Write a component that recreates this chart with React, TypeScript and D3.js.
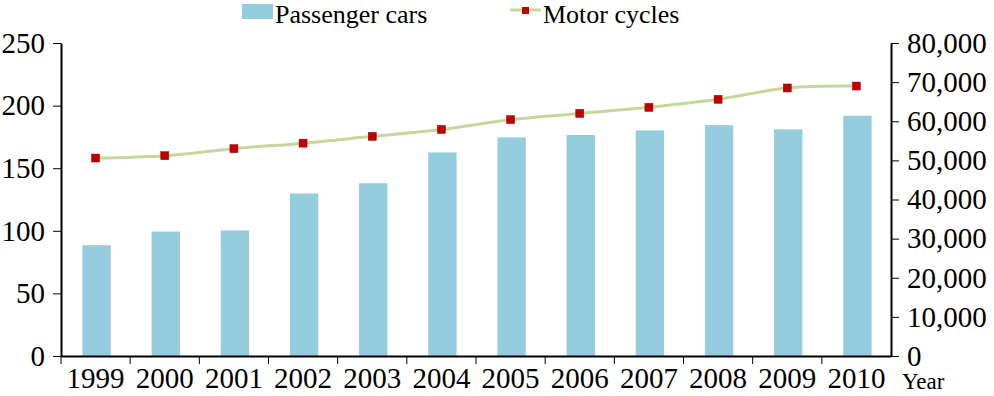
import React, { useRef, useEffect } from 'react';
import * as d3 from 'd3';

// data
const years = ['1999', '2000', '2001', '2002', '2003', '2004', '2005', '2006', '2007', '2008', '2009', '2010'];
const passengerCars = [88.5, 99.4, 100.3, 129.8, 138, 162.6, 174.6, 176.5, 180.2, 184.4, 181, 191.9];
const motorCycles = [50600, 51200, 53000, 54400, 56150, 57900, 60400, 62000, 63550, 65600, 68500, 69000];
const leftTicks = [0, 50, 100, 150, 200, 250];
const rightTicks = [0, 10000, 20000, 30000, 40000, 50000, 60000, 70000, 80000];

const W = 994;
const H = 396;
const BAR_COLOR = '#95cdde';
const LINE_COLOR = '#c4d89c';
const MARKER_COLOR = '#c00000';
const FONT = '"Liberation Serif", "Times New Roman", serif';

const App: React.FC = () => {
  const svgRef = useRef<SVGSVGElement | null>(null);

  useEffect(() => {
    const svg = d3.select(svgRef.current);
    svg.selectAll('*').remove();

    const left = 61;
    const right = 891;
    const top = 43;
    const bottom = 356;

    const x = d3.scaleBand().domain(years).range([left, right]).padding(0);
    const yL = d3.scaleLinear().domain([0, 250]).range([bottom, top]);
    const yR = d3.scaleLinear().domain([0, 80000]).range([bottom, top]);

    // bars
    const barW = x.bandwidth() * 0.41;
    svg.append('g')
      .selectAll('rect')
      .data(passengerCars)
      .enter()
      .append('rect')
      .attr('x', (_, i) => x(years[i])! + x.bandwidth() / 2 - barW / 2 + 1)
      .attr('y', (d) => yL(d))
      .attr('width', barW)
      .attr('height', (d) => bottom - yL(d))
      .attr('fill', BAR_COLOR);

    // left axis
    const gL = svg.append('g')
      .attr('transform', `translate(${left},0)`)
      .call(d3.axisLeft(yL).tickValues(leftTicks).tickSize(8).tickPadding(8).tickSizeOuter(0));
    // right axis
    const gR = svg.append('g')
      .attr('transform', `translate(${right},0)`)
      .call(d3.axisRight(yR).tickValues(rightTicks).tickFormat(d3.format(',') as any).tickSize(8).tickPadding(8).tickSizeOuter(0));
    // x axis
    const gX = svg.append('g')
      .attr('transform', `translate(0,${bottom})`)
      .call(d3.axisBottom(x).tickSize(0).tickPadding(0).tickSizeOuter(0));

    // x ticks between categories
    svg.append('g')
      .selectAll('line')
      .data(years)
      .enter()
      .append('line')
      .attr('x1', (d) => x(d)!)
      .attr('x2', (d) => x(d)!)
      .attr('y1', bottom)
      .attr('y2', bottom + 8)
      .attr('stroke', '#000')
      .attr('stroke-width', 1);

    [gL, gR, gX].forEach((g) => {
      g.select('.domain').attr('stroke', '#000').attr('stroke-width', 2);
      g.selectAll('.tick line').attr('stroke', '#000').attr('stroke-width', 1);
      g.selectAll('text').attr('font-family', FONT).attr('font-size', 29).attr('fill', '#000');
    });
    gX.selectAll('text').attr('y', 32).attr('dy', null);

    svg.append('text')
      .attr('x', 902)
      .attr('y', 389)
      .attr('font-family', FONT)
      .attr('font-size', 23)
      .text('Year');

    // motorcycles line
    const line = d3.line<number>()
      .x((_, i) => x(years[i])! + x.bandwidth() / 2)
      .y((d) => yR(d))
      .curve(d3.curveCatmullRom.alpha(0.5));
    svg.append('path')
      .datum(motorCycles)
      .attr('d', line)
      .attr('fill', 'none')
      .attr('stroke', LINE_COLOR)
      .attr('stroke-width', 3);

    const ms = 8;
    svg.append('g')
      .selectAll('rect')
      .data(motorCycles)
      .enter()
      .append('rect')
      .attr('x', (_, i) => x(years[i])! + x.bandwidth() / 2 - ms / 2)
      .attr('y', (d) => yR(d) - ms / 2)
      .attr('width', ms)
      .attr('height', ms)
      .attr('fill', MARKER_COLOR)
      .attr('stroke', '#a00000')
      .attr('stroke-width', 0.5);

    // legend
    const lg = svg.append('g').attr('font-family', FONT).attr('font-size', 26);
    lg.append('rect').attr('x', 242).attr('y', 4).attr('width', 31).attr('height', 15).attr('fill', BAR_COLOR);
    lg.append('text').attr('x', 275).attr('y', 23).text('Passenger cars');
    lg.append('line').attr('x1', 510).attr('x2', 541).attr('y1', 10).attr('y2', 10)
      .attr('stroke', LINE_COLOR).attr('stroke-width', 3);
    lg.append('rect').attr('x', 522).attr('y', 7).attr('width', 7).attr('height', 7).attr('fill', MARKER_COLOR);
    lg.append('text').attr('x', 543).attr('y', 23).text('Motor cycles');
  }, []);

  return (
    <svg
      ref={svgRef}
      width={W}
      height={H}
      style={{ position: 'absolute', left: 0, top: 0, background: '#fff' }}
    />
  );
};

export default App;
